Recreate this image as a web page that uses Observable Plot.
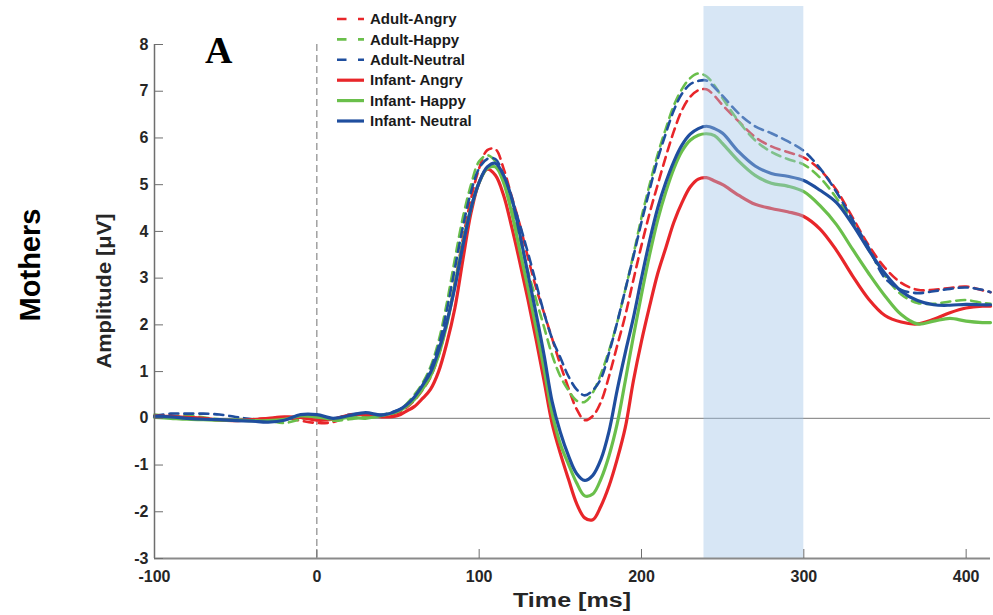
<!DOCTYPE html>
<html><head><meta charset="utf-8">
<script src="https://cdn.jsdelivr.net/npm/d3@7"></script>
<script src="https://cdn.jsdelivr.net/npm/@observablehq/plot@0.6"></script>
<style>
body{margin:0;background:#fff;}
#chart{width:993px;height:615px;}
</style></head><body><div id="chart"></div>
<script>
// Time points (ms)
const times = [-100,-90,-80,-70,-60,-50,-40,-30,-20,-10,0,10,20,30,40,50,
55,60,65,70,75,80,85,90,95,100,105,110,115,120,125,130,135,140,145,150,155,160,165,170,175,180,185,190,195,200,205,210,215,220,225,230,235,240,245,250,
260,270,280,290,300,310,320,330,340,350,360,370,380,390,400,410,415];

// Amplitudes (µV)
const adultAngry = [0.05,0.03,0.0,-0.02,-0.03,-0.04,-0.02,0.0,0.02,-0.05,-0.1,-0.08,0.05,0.06,0.05,0.12,
0.22,0.38,0.6,0.88,1.35,2.0,2.9,3.85,4.7,5.35,5.74,5.76,5.35,4.75,4.15,3.45,2.8,2.25,1.7,1.15,0.65,0.2,-0.04,0.05,0.35,0.9,1.55,2.2,2.96,3.7,4.39,5.0,5.6,6.15,6.6,6.88,7.02,7.04,6.9,6.7,
6.35,6.02,5.82,5.7,5.58,5.32,4.89,4.3,3.7,3.22,2.9,2.75,2.75,2.79,2.82,2.74,2.7];

const adultHappy = [0.08,0.05,0.06,0.02,-0.02,-0.04,-0.03,-0.05,-0.1,-0.02,0.02,-0.05,-0.02,0.03,0.04,0.15,
0.3,0.5,0.75,1.1,1.65,2.45,3.4,4.3,5.0,5.5,5.63,5.5,5.1,4.5,3.85,3.15,2.55,1.95,1.35,0.9,0.6,0.38,0.35,0.55,0.95,1.45,2.05,2.75,3.5,4.3,5.0,5.65,6.2,6.7,7.05,7.28,7.38,7.32,7.12,6.85,
6.35,5.95,5.7,5.55,5.43,5.15,4.72,4.2,3.6,3.05,2.65,2.47,2.45,2.5,2.53,2.47,2.45];

const adultNeutral = [0.05,0.1,0.1,0.1,0.08,0.03,-0.02,-0.05,-0.03,0.05,0.05,0.0,0.08,0.1,0.08,0.18,
0.28,0.45,0.7,1.05,1.55,2.3,3.2,4.1,4.85,5.35,5.55,5.55,5.2,4.7,4.15,3.55,2.9,2.25,1.7,1.3,0.9,0.62,0.49,0.6,0.85,1.4,2.05,2.75,3.46,4.2,4.89,5.55,6.1,6.6,6.95,7.15,7.22,7.23,7.08,6.9,
6.52,6.25,6.1,5.93,5.72,5.35,4.85,4.25,3.65,3.0,2.75,2.68,2.72,2.77,2.8,2.75,2.7];

const infantAngry = [0.05,0.04,0.02,0.0,-0.04,-0.05,-0.03,0.0,0.03,0.02,-0.04,-0.02,0.07,0.08,0.03,0.06,
0.15,0.25,0.42,0.62,1.0,1.6,2.35,3.4,4.4,5.05,5.33,5.2,4.78,4.1,3.35,2.55,1.7,0.8,-0.12,-0.75,-1.3,-1.82,-2.13,-2.17,-1.88,-1.45,-0.88,-0.2,0.8,1.65,2.4,3.1,3.65,4.2,4.62,4.95,5.12,5.15,5.08,5.0,
4.77,4.58,4.49,4.42,4.32,4.05,3.6,3.05,2.55,2.2,2.06,2.02,2.12,2.26,2.36,2.4,2.4];

const infantHappy = [0.02,0.0,-0.02,-0.03,-0.04,-0.04,-0.05,-0.05,-0.02,0.05,0.03,-0.02,0.02,0.0,0.06,0.15,
0.25,0.4,0.62,0.9,1.35,2.0,2.85,3.75,4.5,5.05,5.35,5.38,5.05,4.4,3.6,2.8,1.95,1.05,0.1,-0.55,-0.98,-1.38,-1.66,-1.62,-1.3,-0.8,-0.12,0.8,1.75,2.65,3.5,4.25,4.85,5.35,5.72,5.95,6.06,6.09,6.05,5.88,
5.5,5.2,5.03,4.97,4.85,4.55,4.15,3.62,3.1,2.62,2.22,2.02,2.08,2.14,2.08,2.05,2.05];

const infantNeutral = [0.04,0.03,0.0,-0.02,-0.03,-0.05,-0.06,-0.08,-0.04,0.08,0.08,0.0,0.06,0.12,0.07,0.17,
0.28,0.45,0.7,0.98,1.45,2.05,2.8,3.7,4.5,5.05,5.38,5.46,5.2,4.72,3.95,3.1,2.25,1.35,0.35,-0.3,-0.8,-1.18,-1.33,-1.22,-0.88,-0.28,0.6,1.4,2.15,3.0,3.8,4.5,5.05,5.5,5.85,6.08,6.2,6.25,6.2,6.1,
5.7,5.4,5.24,5.18,5.09,4.88,4.62,4.15,3.6,3.1,2.72,2.52,2.43,2.42,2.44,2.43,2.43];

const seriesNames = ["Adult-Angry","Adult-Happy","Adult-Neutral","Infant- Angry","Infant- Happy","Infant- Neutral"];
const seriesValues = [adultAngry, adultHappy, adultNeutral, infantAngry, infantHappy, infantNeutral];
const xTicks = [-100, 0, 100, 200, 300, 400];
const yTicks = [-3,-2,-1,0,1,2,3,4,5,6,7,8];
const analysisWindow = [{start: 238.5, end: 300}];

// styles
const RED = "#e8262a", GREEN = "#6abf4b", BLUE = "#1f4e9e";
const colors = [RED, GREEN, BLUE, RED, GREEN, BLUE];
const dashed = [true, true, true, false, false, false];
const FONT = "'Liberation Sans', Arial, Helvetica, sans-serif";
const fmt = d => String(d);

const marks = [];
marks.push(Plot.ruleY([0], {stroke: "#7a7a7a", strokeWidth: 1}));
marks.push(Plot.ruleX([0], {stroke: "#8a8a8a", strokeWidth: 1.2, strokeDasharray: "7,4"}));
seriesValues.forEach((vals, i) => {
  const rows = times.map((t, j) => ({t, v: vals[j]}));
  marks.push(Plot.line(rows, {
    x: "t", y: "v", stroke: colors[i],
    strokeWidth: dashed[i] ? 2.6 : 3.2,
    strokeDasharray: dashed[i] ? "9,6" : null,
    curve: "catmull-rom"
  }));
});
marks.push(Plot.rect(analysisWindow, {x1: "start", x2: "end", fill: "#9fc3e6", fillOpacity: 0.42, insetTop: -38}));
marks.push(Plot.ruleX([-100], {stroke: "#6e6e6e", strokeWidth: 1.5}));
marks.push(Plot.ruleY([-3], {stroke: "#8a8a8a", strokeWidth: 2}));
marks.push(Plot.axisY(yTicks, {tickSize: -9, tickPadding: 15, tickFormat: fmt, stroke: "#6e6e6e", fill: "#262626", fontSize: 16, fontWeight: "bold", label: null}));
marks.push(Plot.axisX(xTicks, {tickSize: -9, tickPadding: 21, tickFormat: fmt, stroke: "#6e6e6e", fill: "#262626", fontSize: 16, fontWeight: "bold", label: null}));

const svg = Plot.plot({
  width: 993, height: 615,
  marginLeft: 154, marginRight: 3, marginTop: 44, marginBottom: 57,
  x: {domain: [-100, 415]},
  y: {domain: [-3, 8]},
  style: {fontFamily: FONT, fontSize: "16px", background: "white", overflow: "visible"},
  marks
});
document.getElementById("chart").appendChild(svg);

// Annotations and legend
const s = d3.select(svg);
s.append("text").attr("x", 205).attr("y", 63).attr("text-anchor", "start")
  .attr("font-family", "'Liberation Serif', 'Times New Roman', serif")
  .attr("font-weight", "bold").attr("font-size", 38).attr("fill", "#000").text("A");
s.append("text").attr("transform", "translate(40,265) rotate(-90)").attr("text-anchor", "middle")
  .attr("font-family", FONT).attr("font-weight", "bold").attr("font-size", 29).attr("fill", "#000").text("Mothers");
s.append("text").attr("transform", "translate(111,291) rotate(-90)").attr("text-anchor", "middle")
  .attr("font-family", FONT).attr("font-weight", "bold").attr("font-size", 20).attr("fill", "#262626")
  .attr("textLength", 155).attr("lengthAdjust", "spacingAndGlyphs").text("Amplitude [μV]");
s.append("text").attr("x", 572).attr("y", 607).attr("text-anchor", "middle")
  .attr("font-family", FONT).attr("font-weight", "bold").attr("font-size", 20).attr("fill", "#262626")
  .attr("textLength", 118).attr("lengthAdjust", "spacingAndGlyphs").text("Time [ms]");

const lg = s.append("g").attr("text-anchor", "start");
seriesNames.forEach((name, i) => {
  const y = 19 + i * 20.4;
  lg.append("line").attr("x1", 337).attr("x2", 364).attr("y1", y).attr("y2", y)
    .attr("stroke", colors[i]).attr("stroke-width", dashed[i] ? 2.6 : 3.2)
    .attr("stroke-dasharray", dashed[i] ? "9.5,11.5" : null);
  lg.append("text").attr("x", 370).attr("y", y).attr("dy", "0.35em")
    .attr("font-family", FONT).attr("font-weight", "bold").attr("font-size", 15).attr("fill", "#1a1a1a").text(name);
});
</script></body></html>
